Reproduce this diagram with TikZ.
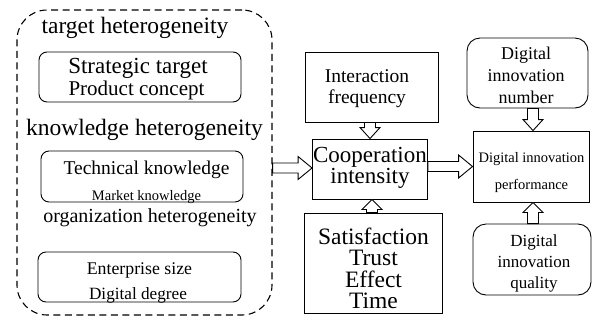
\documentclass[tikz,border=0pt]{standalone}
\usepackage{fontspec}
\setmainfont{Liberation Serif}
\newfontfamily\tnr{Liberation Serif}
\usetikzlibrary{calc}
\newcommand\fsz[2]{\tnr\fontsize{#1}{#2}\selectfont}
\tikzset{
  box/.style={draw, line width=0.9pt, inner sep=0pt},
  rbox/.style={box, rounded corners=8pt},
  rrbox/.style={box, rounded corners=13pt},
  txt/.style={inner sep=0pt, align=center},
  arr/.style={draw, line width=0.9pt, fill=white, line join=miter},
}
% horizontal hollow arrow: from x of #1 to #2 (at y of #2)
\newcommand\harr[2]{\draw[arr] let \p1=#1, \p2=#2 in
  (\x1,\y2+5pt) -- (\x2-14pt,\y2+5pt) -- (\x2-14pt,\y2+11.5pt) -- (\x2,\y2)
  -- (\x2-14pt,\y2-11.5pt) -- (\x2-14pt,\y2-5pt) -- (\x1,\y2-5pt) -- cycle;}
% downward hollow arrow
\newcommand\darr[2]{\draw[arr] let \p1=#1, \p2=#2 in
  (\x2-5.5pt,\y1) -- (\x2-5.5pt,\y2+11pt) -- (\x2-10pt,\y2+11pt) -- (\x2,\y2)
  -- (\x2+10pt,\y2+11pt) -- (\x2+5.5pt,\y2+11pt) -- (\x2+5.5pt,\y1) -- cycle;}
% upward hollow arrow
\newcommand\uarr[2]{\draw[arr] let \p1=#1, \p2=#2 in
  (\x2-5.5pt,\y1) -- (\x2-5.5pt,\y2-10pt) -- (\x2-10pt,\y2-10pt) -- (\x2,\y2)
  -- (\x2+10pt,\y2-10pt) -- (\x2+5.5pt,\y2-10pt) -- (\x2+5.5pt,\y1) -- cycle;}
\begin{document}
\begin{tikzpicture}[x=1pt,y=-1pt]
\useasboundingbox[fill=white] (0,0) rectangle (592,325);

% left dashed group
\node[box, line width=1.1pt, dash pattern=on 7pt off 4.5pt, rounded corners=30pt,
      minimum width=255pt, minimum height=305pt] (het) at (144.5,162.5) {};
\node[txt, font=\fsz{23.5}{23}] (tgt) at (135,28) {target heterogeneity};
\node[rbox, minimum width=202pt, minimum height=50pt] (strat) at (140,77) {};
\node[txt, font=\fsz{23}{22}] (stratA) at (138,68) {Strategic target};
\node[txt, font=\fsz{21}{20}] (stratB) at (136.5,90) {Product concept};

\node[txt, font=\fsz{23.5}{23}] (know) at (144.5,130) {knowledge heterogeneity};
\node[rbox, minimum width=202pt, minimum height=51pt] (tech) at (142,176.5) {};
\node[txt, font=\fsz{19.5}{20}] (techA) at (146.5,170) {Technical knowledge};
\node[txt, font=\fsz{14.5}{15}] (techB) at (146.5,197) {Market knowledge};

\node[txt, font=\fsz{20}{20}] (org) at (150,218) {organization heterogeneity};
\node[rbox, minimum width=203pt, minimum height=50pt] (ent) at (139.5,277) {};
\node[txt, font=\fsz{17.8}{18}] (entA) at (139.5,270) {Enterprise size};
\node[txt, font=\fsz{17.2}{18}] (entB) at (138,295) {Digital degree};

% middle column
\node[box, minimum width=133pt, minimum height=70pt] (inter) at (371.5,87) {};
\node[txt, font=\fsz{19.5}{21}] (interT) at (367,88.5) {Interaction\\frequency};
\node[box, minimum width=115pt, minimum height=60pt] (coop) at (370,169) {};
\node[txt, font=\fsz{23}{19}] (coopT) at (370,167.5) {Cooperation\\intensity};
\node[box, minimum width=138pt, minimum height=100pt] (sat) at (373,263) {};
\node[txt, font=\fsz{23.5}{21.5}] (satT) at (373.5,268.5) {Satisfaction\\Trust\\Effect\\Time};

% right column
\node[rrbox, minimum width=121pt, minimum height=70pt] (num) at (527.5,73) {};
\node[txt, font=\fsz{18}{22}] (numT) at (526,75) {Digital\\innovation\\number};
\node[box, minimum width=116pt, minimum height=71pt] (perf) at (531,166.5) {};
\node[txt, font=\fsz{14.5}{27}] (perfT) at (531.5,172.5) {Digital innovation\\performance};
\node[rrbox, minimum width=118pt, minimum height=71pt] (qual) at (532,259.5) {};
\node[txt, font=\fsz{17}{21}] (qualT) at (534,263) {Digital\\innovation\\quality};

% hollow arrows
\harr{(het.east)}{([yshift=1pt]coop.west)}
\harr{(coop.east)}{(perf.west)}
\darr{(inter.south)}{(coop.north)}
\uarr{(sat.north)}{([xshift=2pt]coop.south)}
\darr{(num.south)}{([xshift=2pt]perf.north)}
\uarr{(qual.north)}{([xshift=2pt]perf.south)}
\end{tikzpicture}
\end{document}
